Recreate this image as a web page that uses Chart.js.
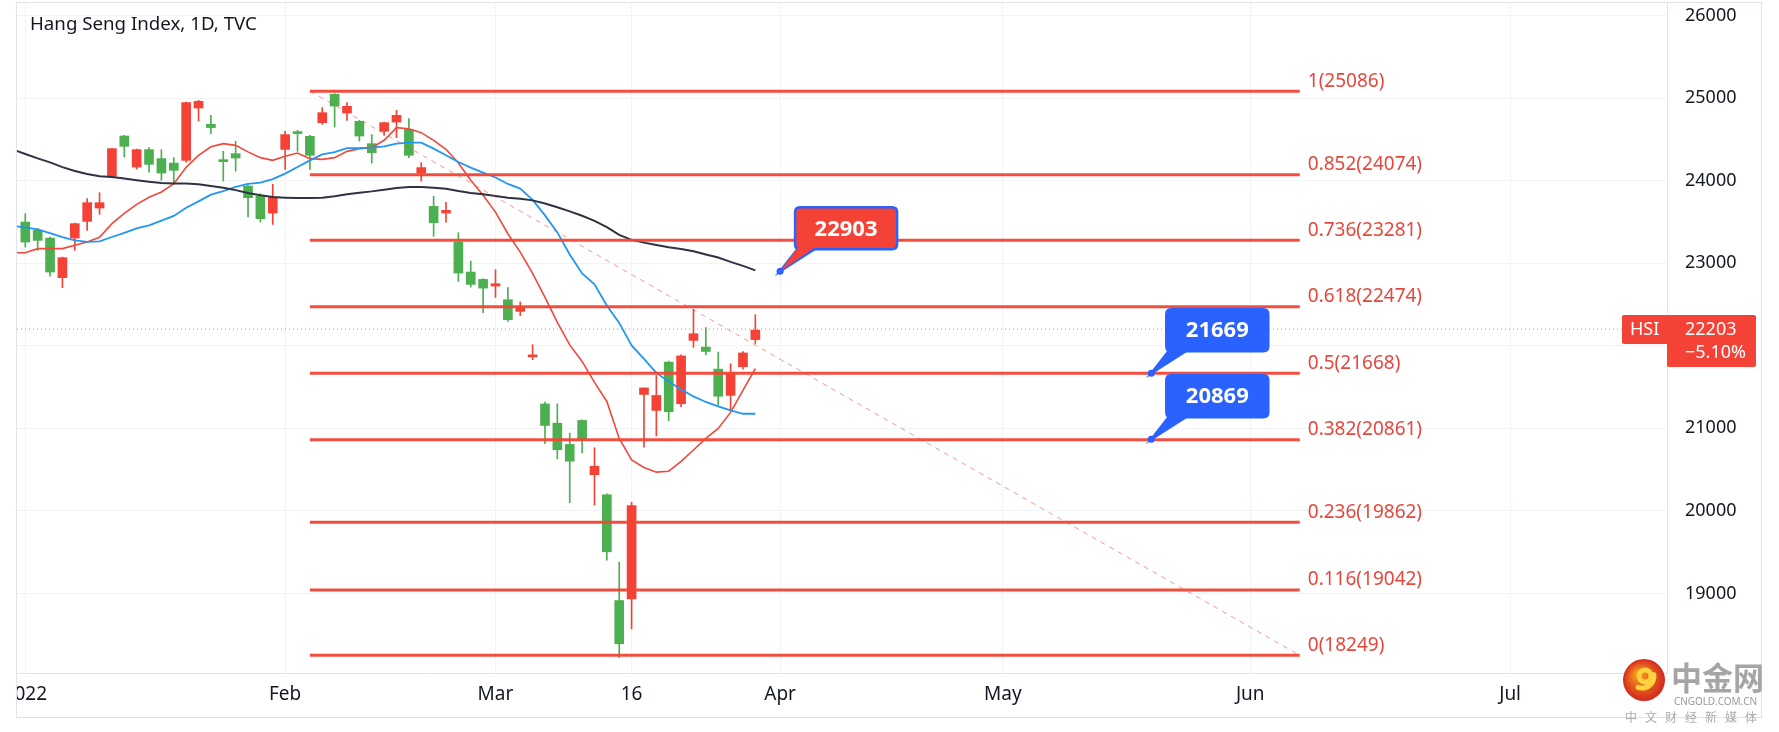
<!DOCTYPE html>
<html>
<head>
<meta charset="utf-8">
<script src="https://cdn.jsdelivr.net/npm/chart.js@4.4.1/dist/chart.umd.min.js"></script>
<style>
html,body{margin:0;padding:0;background:#fff;}
canvas{display:block;}
</style>
</head>
<body>
<canvas id="c" width="1779" height="732"></canvas>
<script>
// ---- data ----
const openP  = [23258,23278,22894,23068,23481,23735,23735,24390,24418,24378,24200,24094,24127,24948,24963,24645,24232,24276,23796,23541,23803,24560,24572,24309,24826,24906,24903,24543,24341,24705,24794,24309,24160,23493,23642,22882,22745,22700,22753,22317,22462,21890,21035,20741,20602,20874,20541,19504,18389,20065,21490,21399,21201,21878,22147,21932,21389,21662,21914,22191];
const highP  = [23602,23420,23318,23076,23488,23784,23856,24395,24551,24385,24402,24378,24281,24955,24976,24794,24357,24478,23945,23844,23957,24600,24612,24551,24887,25057,24948,24733,24560,24712,24854,24754,24220,23812,23739,23371,23027,22814,22923,22705,22532,22014,21318,21296,20942,21104,20765,20207,19378,20105,21490,21641,21815,21892,22442,22220,21924,21783,21930,22377];
const lowP   = [23197,23157,22845,22705,23157,23399,23593,24046,24288,24143,24106,24006,23966,24227,24725,24572,23997,24118,23561,23500,23472,24139,24357,24139,24685,24652,24733,24482,24215,24551,24523,24281,23997,23327,23500,22781,22712,22402,22587,22296,22365,21833,20813,20631,20098,20702,20071,19402,18222,18570,20772,20908,21090,21262,21981,21894,21281,21205,21718,22029];
const closeP = [23500,23399,23306,22826,23306,23508,23670,24054,24543,24167,24378,24269,24215,24248,24882,24685,24248,24329,23936,23815,23609,24381,24591,24539,24705,25048,24822,24721,24450,24600,24712,24624,24094,23690,23609,23258,22894,22805,22724,22559,22417,21866,21296,21063,20805,21096,20438,20195,18913,18934,21411,21217,21803,21298,22066,21985,21718,21399,21747,22076];

// moving averages, first value sits one bar before the first candle
const maFast = [23129,23129,23178,23178,23178,23218,23258,23315,23481,23606,23715,23800,23864,23966,24163,24309,24412,24451,24430,24351,24281,24248,24297,24337,24269,24260,24281,24357,24390,24402,24491,24645,24632,24584,24491,24382,24215,24006,23824,23621,23359,23136,22878,22587,22284,22011,21811,21557,21326,20878,20617,20526,20469,20481,20599,20738,20878,20999,21193,21460,21723];
const maMid  = [23455,23436,23412,23366,23317,23278,23259,23266,23319,23369,23424,23461,23518,23575,23673,23751,23832,23876,23927,23964,23979,24021,24087,24168,24248,24321,24349,24397,24397,24402,24418,24451,24463,24463,24390,24309,24228,24160,24099,24040,23962,23905,23769,23581,23375,23108,22878,22745,22490,22278,22005,21841,21672,21569,21472,21387,21320,21266,21217,21177,21177];
const maSlow = [24380,24325,24272,24224,24166,24120,24083,24055,24046,24027,24008,23989,23974,23966,23966,23957,23938,23917,23887,23853,23826,23804,23796,23791,23791,23796,23812,23836,23856,23872,23893,23912,23924,23924,23917,23905,23876,23852,23836,23815,23796,23784,23763,23724,23679,23630,23576,23515,23439,23345,23284,23251,23222,23194,23174,23146,23107,23070,23017,22969,22914];

// fibonacci retracement
const fibRatios = ['1','0.852','0.736','0.618','0.5','0.382','0.236','0.116','0'];
const fibValues = [25086,24074,23281,22474,21668,20861,19862,19042,18249];
const fibStartBar = 23, fibEndBar = 103;

// callouts
const calloutBars   = [61, 91, 91];
const calloutValues = [22903, 21669, 20869];
const calloutFills  = ['#f44336', '#2962ff', '#2962ff'];

// axes
const timeTickBars   = [0, 21, 38, 49, 61, 79, 99, 120];
const timeTickLabels = ['2022', 'Feb', 'Mar', '16', 'Apr', 'May', 'Jun', 'Jul'];
const priceTicks = [19000, 20000, 21000, 22000, 23000, 24000, 25000, 26000];
const lastPrice = 22203, lastChange = '\u22125.10%', symbol = 'HSI';
const titleText = 'Hang Seng Index, 1D, TVC';

// ---- chart ----
const X_MIN = -0.671, X_MAX = 132.68;
const UP = '#4caf50', DOWN = '#f44336';
const FONT = "'Noto Sans', 'DejaVu Sans', sans-serif";
const candleColor = ctx => closeP[ctx.dataIndex] >= openP[ctx.dataIndex] ? UP : DOWN;

const datasets = [];
fibValues.forEach(v => datasets.push({
  type: 'line', data: [{x: fibStartBar, y: v}, {x: fibEndBar, y: v}],
  borderColor: 'rgba(242,67,54,0.95)', borderWidth: 3, pointRadius: 0, order: 0
}));
datasets.push({
  type: 'line', data: [{x: fibStartBar, y: fibValues[0]}, {x: fibEndBar, y: fibValues[fibValues.length - 1]}],
  borderColor: 'rgba(242,67,54,0.55)', borderWidth: 1, borderDash: [5, 5], pointRadius: 0, order: 1
});
datasets.push({
  type: 'line', data: [{x: X_MIN, y: lastPrice}, {x: X_MAX, y: lastPrice}],
  borderColor: 'rgba(214,110,96,0.85)', borderWidth: 1, borderDash: [1, 3], pointRadius: 0, order: 2
});
[[maSlow, '#2f3241', 2], [maMid, '#2196f3', 1.8], [maFast, '#f0483c', 1.6]].forEach(([arr, col, w]) => datasets.push({
  type: 'line', data: arr.map((v, i) => ({x: i - 1, y: v})),
  borderColor: col, borderWidth: w, pointRadius: 0, tension: 0, order: 3
}));
datasets.push({
  type: 'bar', data: openP.map((o, i) => ({x: i, y: [o, closeP[i]]})),
  backgroundColor: candleColor, barThickness: 9, minBarLength: 2, grouped: false, borderWidth: 0, order: 4
});
datasets.push({
  type: 'bar', data: openP.map((o, i) => ({x: i, y: [lowP[i], highP[i]]})),
  backgroundColor: candleColor, barThickness: 1, grouped: false, borderWidth: 0, order: 5
});

function roundRect(ctx, x, y, w, h, r) {
  ctx.beginPath();
  ctx.moveTo(x + r, y);
  ctx.lineTo(x + w - r, y); ctx.quadraticCurveTo(x + w, y, x + w, y + r);
  ctx.lineTo(x + w, y + h - r); ctx.quadraticCurveTo(x + w, y + h, x + w - r, y + h);
  ctx.lineTo(x + r, y + h); ctx.quadraticCurveTo(x, y + h, x, y + h - r);
  ctx.lineTo(x, y + r); ctx.quadraticCurveTo(x, y, x + r, y);
  ctx.closePath();
}
function spaced(ctx, text, x0, x1, y) {
  const chars = Array.from(text);
  const ws = chars.map(c => ctx.measureText(c).width);
  const total = ws.reduce((a, b) => a + b, 0);
  const gap = chars.length > 1 ? (x1 - x0 - total) / (chars.length - 1) : 0;
  let x = x0;
  chars.forEach((c, i) => { ctx.fillText(c, x, y); x += ws[i] + gap; });
}

const overlay = {
  id: 'overlay',
  afterDatasetsDraw(chart) {
    const ctx = chart.ctx, xs = chart.scales.x, ys = chart.scales.y;
    ctx.save();
    // fib labels
    ctx.font = '19px ' + FONT;
    ctx.fillStyle = '#e5473c';
    ctx.textAlign = 'left'; ctx.textBaseline = 'middle';
    const lx = xs.getPixelForValue(fibEndBar) + 8;
    fibValues.forEach((v, i) => ctx.fillText(fibRatios[i] + '(' + v + ')', lx, ys.getPixelForValue(v) - 10));
    // callouts
    calloutBars.forEach((b, i) => {
      const px = xs.getPixelForValue(b), py = ys.getPixelForValue(calloutValues[i]);
      const bx = px + 15, by = py - 64, bw = 102, bh = 42;
      ctx.lineWidth = 2.5; ctx.strokeStyle = '#2962ff'; ctx.fillStyle = calloutFills[i];
      ctx.beginPath();
      ctx.moveTo(px, py); ctx.lineTo(bx + 3, by + bh - 1); ctx.lineTo(bx + 21, by + bh - 1); ctx.closePath();
      ctx.fill(); ctx.stroke();
      roundRect(ctx, bx, by, bw, bh, 5); ctx.fill(); ctx.stroke();
      ctx.beginPath(); ctx.moveTo(px, py); ctx.lineTo(bx + 3, by + bh - 2); ctx.lineTo(bx + 20, by + bh - 2); ctx.closePath(); ctx.fill();
      ctx.fillStyle = '#2962ff';
      ctx.beginPath(); ctx.arc(px, py, 3.5, 0, Math.PI * 2); ctx.fill();
      ctx.fillStyle = '#ffffff'; ctx.font = 'bold 22px ' + FONT; ctx.textAlign = 'center';
      ctx.fillText(String(calloutValues[i]), bx + bw / 2, by + bh / 2 + 1);
      ctx.textAlign = 'left';
    });
    ctx.restore();
  },
  afterDraw(chart) {
    const ctx = chart.ctx, xs = chart.scales.x, ys = chart.scales.y, ca = chart.chartArea;
    ctx.save();
    // frame
    ctx.strokeStyle = '#e0e3eb'; ctx.lineWidth = 1;
    ctx.strokeRect(16.5, 2.5, 1745, 715);
    // title
    ctx.fillStyle = '#131722'; ctx.font = '18.7px ' + FONT; ctx.textBaseline = 'middle'; ctx.textAlign = 'left';
    ctx.fillText(titleText, 30, 25);
    // time labels
    ctx.save();
    ctx.beginPath(); ctx.rect(17, ca.bottom, 1745, 50); ctx.clip();
    ctx.font = '19px ' + FONT; ctx.textAlign = 'center';
    timeTickBars.forEach((b, i) => ctx.fillText(timeTickLabels[i], xs.getPixelForValue(b), 695));
    ctx.restore();
    // last price label
    const py = ys.getPixelForValue(lastPrice);
    ctx.fillStyle = '#f44336';
    roundRect(ctx, 1622, py - 14, 50, 29, 2); ctx.fill();
    roundRect(ctx, 1667, py - 14, 89, 52, 2); ctx.fill();
    ctx.fillStyle = '#ffffff'; ctx.font = '18px ' + FONT; ctx.textAlign = 'left';
    ctx.fillText(symbol, 1630, py + 1);
    ctx.fillText(String(lastPrice), 1685, py + 1);
    ctx.fillText(lastChange, 1685, py + 24);
    // watermark
    const cx = 1644, cy = 680, r = 21;
    const g = ctx.createRadialGradient(cx - 6, cy - 6, 3, cx, cy, r);
    g.addColorStop(0, '#f7941d'); g.addColorStop(1, '#d2281e');
    ctx.fillStyle = g; ctx.beginPath(); ctx.arc(cx, cy, r, 0, Math.PI * 2); ctx.fill();
    ctx.strokeStyle = '#ffd23f'; ctx.lineWidth = 5; ctx.lineCap = 'round';
    ctx.beginPath(); ctx.arc(cx + 1, cy - 4, 6, 0, Math.PI * 2); ctx.stroke();
    ctx.beginPath(); ctx.arc(cx - 2, cy - 4, 12, -0.1, 1.9); ctx.stroke();
    ctx.fillStyle = '#a5a5a5'; ctx.font = 'bold 32px "Noto Sans CJK SC"'; ctx.textAlign = 'left';
    ctx.fillText('\u4e2d\u91d1\u7f51', 1671, 678, 93);
    ctx.font = '10px ' + FONT; ctx.fillStyle = '#9a9a9a';
    spaced(ctx, 'CNGOLD.COM.CN', 1674, 1757, 702);
    ctx.font = '12px "Noto Sans CJK SC"'; ctx.fillStyle = '#aaaaaa';
    spaced(ctx, '\u4e2d\u6587\u8d22\u7ecf\u65b0\u5a92\u4f53', 1625, 1757, 717);
    ctx.restore();
  }
};

Chart.defaults.font.family = FONT;
new Chart(document.getElementById('c'), {
  type: 'bar',
  data: {datasets},
  options: {
    responsive: false, animation: false, devicePixelRatio: 1,
    layout: {padding: {left: 17, top: 3, right: 17, bottom: 15}},
    plugins: {legend: {display: false}, tooltip: {enabled: false}},
    scales: {
      x: {
        type: 'linear', min: X_MIN, max: X_MAX, offset: false,
        grid: {color: '#f0f3fa', offset: false, drawTicks: false},
        border: {display: true, color: '#e0e3eb'},
        ticks: {display: false},
        afterBuildTicks: s => { s.ticks = timeTickBars.map(v => ({value: v})); },
        afterFit: s => { s.height = 44; s.paddingLeft = 0; s.paddingRight = 0; }
      },
      y: {
        position: 'right', min: 18035, max: 26155, beginAtZero: false,
        grid: {color: '#f0f3fa', drawTicks: false},
        border: {display: true, color: '#e0e3eb'},
        ticks: {color: '#131722', font: {size: 18}, padding: 18, callback: v => String(v)},
        afterBuildTicks: s => { s.ticks = priceTicks.map(v => ({value: v})); },
        afterFit: s => { s.width = 95; s.paddingTop = 0; s.paddingBottom = 0; }
      }
    }
  },
  plugins: [overlay]
});
</script>
</body>
</html>
